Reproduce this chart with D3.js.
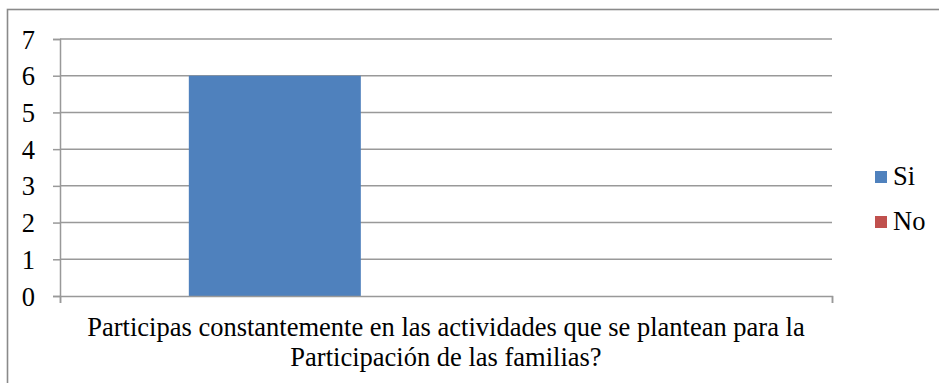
<!DOCTYPE html>
<html>
<head>
<meta charset="utf-8">
<script src="https://cdn.jsdelivr.net/npm/d3@7"></script>
<style>
  html, body { margin: 0; padding: 0; background: #fff; }
</style>
</head>
<body>
<svg id="chart" width="939" height="383"></svg>
<script>
// Chart data
const categories = ["Participas constantemente en las actividades que se plantean para la Participación de las familias?"];
const categoryLines = ["Participas constantemente en las actividades que se plantean para la", "Participación de las familias?"];
const seriesNames = ["Si", "No"];
const siValues = [6];
const noValues = [0];
const yTicks = [0, 1, 2, 3, 4, 5, 6, 7];
const seriesColors = ["#4F81BD", "#C0504D"];

const FONT = '"Liberation Serif"';
const FONT_SIZE = "26.5px";
const svg = d3.select("#chart");
const plot = { left: 60, right: 832, top: 39, bottom: 296 };
const gridColor = "#999999";

// Outer chart frame
svg.append("rect")
  .attr("x", 7.5).attr("y", 9.5)
  .attr("width", 960).attr("height", 420)
  .attr("fill", "#fff")
  .attr("stroke", "#8a8a8a").attr("stroke-width", 1.6);

const y = d3.scaleLinear().domain([0, 7]).range([plot.bottom, plot.top]);
const x0 = d3.scaleBand().domain(categories).range([plot.left, plot.right]).padding(0);
const x1 = d3.scaleBand().domain(seriesNames)
  .range([0, x0.bandwidth()])
  .paddingInner(0).paddingOuter(1.244).align(0.301);

// Y axis with tick labels
const yAxis = d3.axisLeft(y).tickValues(yTicks).tickSize(7).tickFormat(d3.format("d"));
const gy = svg.append("g").attr("transform", `translate(${plot.left},0)`).call(yAxis);
gy.attr("font-family", null).attr("font-size", null);
gy.select(".domain").attr("stroke", gridColor).attr("stroke-width", 1.5);
gy.selectAll(".tick line").attr("stroke", gridColor).attr("stroke-width", 1.5);
gy.selectAll(".tick text")
  .attr("x", -25).attr("dy", "0.34em")
  .attr("text-anchor", "end")
  .attr("fill", "#000")
  .style("font-family", FONT)
  .style("font-size", FONT_SIZE);

// Horizontal gridlines
svg.append("g").selectAll("line")
  .data(yTicks.filter(d => d > 0))
  .join("line")
  .attr("x1", plot.left).attr("x2", plot.right)
  .attr("y1", d => y(d)).attr("y2", d => y(d))
  .attr("stroke", gridColor).attr("stroke-width", 1.5);

// Bars
const rows = categories.map((c, i) => ({ cat: c, values: [siValues[i], noValues[i]] }));
svg.append("g").selectAll("g")
  .data(rows)
  .join("g")
  .attr("transform", d => `translate(${x0(d.cat)},0)`)
  .selectAll("rect")
  .data(d => d.values.map((v, j) => ({ name: seriesNames[j], value: v, color: seriesColors[j] })))
  .join("rect")
  .attr("x", d => x1(d.name))
  .attr("width", x1.bandwidth())
  .attr("y", d => y(d.value))
  .attr("height", d => y(0) - y(d.value))
  .attr("fill", d => d.color);

// X axis baseline with end ticks
const xAxis = d3.axisBottom(d3.scaleLinear().domain([0, 1]).range([plot.left, plot.right]))
  .tickValues([0, 1]).tickSize(7).tickFormat("");
const gx = svg.append("g").attr("transform", `translate(0,${plot.bottom})`).call(xAxis);
gx.select(".domain").attr("stroke", gridColor).attr("stroke-width", 1.5);
gx.selectAll(".tick line").attr("stroke", gridColor).attr("stroke-width", 1.5);

// Category label, one text element per line
const cx = x0(categories[0]) + x0.bandwidth() / 2;
svg.append("g").selectAll("text")
  .data(categoryLines)
  .join("text")
  .attr("x", cx)
  .attr("y", (d, i) => 336 + i * 30)
  .attr("text-anchor", "middle")
  .style("font-family", FONT)
  .style("font-size", FONT_SIZE)
  .text(d => d);

// Legend
const legend = svg.append("g").selectAll("g")
  .data(seriesNames)
  .join("g")
  .attr("transform", (d, i) => `translate(875,${171 + i * 45})`);
legend.append("rect")
  .attr("width", 12).attr("height", 12)
  .attr("fill", (d, i) => seriesColors[i]);
legend.append("text")
  .attr("x", 18).attr("y", 14)
  .style("font-family", FONT)
  .style("font-size", FONT_SIZE)
  .text(d => d);
</script>
</body>
</html>
